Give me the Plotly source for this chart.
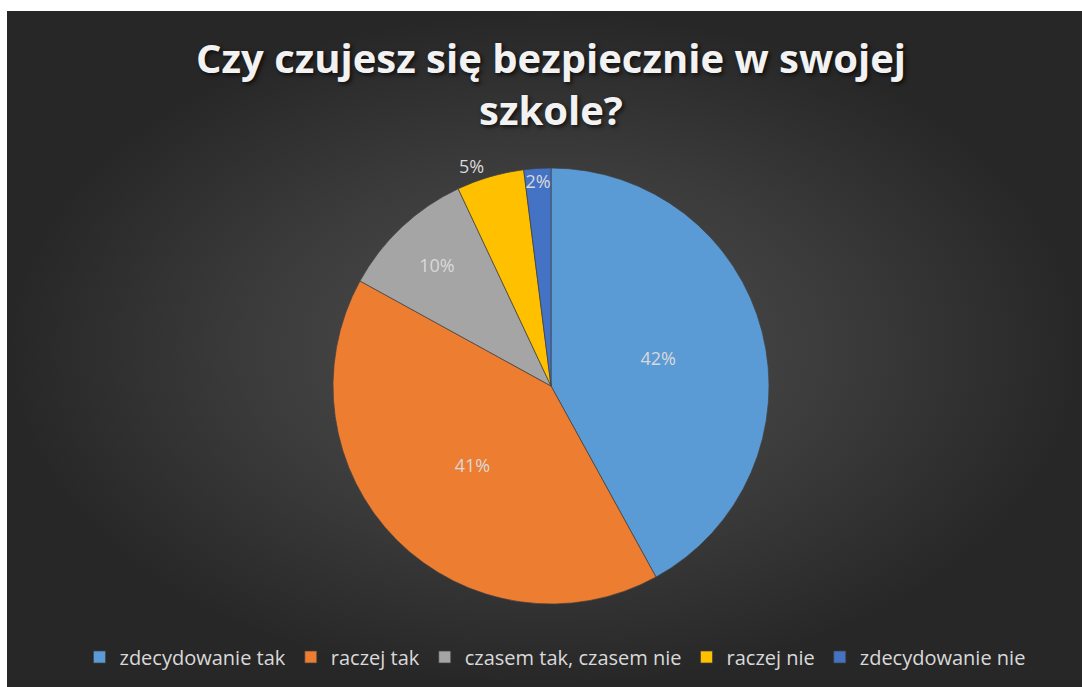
import plotly.graph_objects as go

categories = ["zdecydowanie tak", "raczej tak", "czasem tak, czasem nie", "raczej nie", "zdecydowanie nie"]
values = [42, 41, 10, 5, 2]
colors = ["#5B9BD5", "#ED7D31", "#A5A5A5", "#FFC000", "#4472C4"]
text_positions = ["inside", "inside", "inside", "outside", "inside"]
title_text = "Czy czujesz się bezpiecznie w swojej<br>szkole?"

W, H = 1082, 687

fig = go.Figure()

# background panel with a radial gradient (decoration, drawn on hidden axes)
fig.add_trace(go.Scatter(
    x=[7, W, W, 7, 7], y=[11, 11, H, H, 11],
    mode="lines", line=dict(width=0),
    fill="toself",
    fillcolor="#262626",
    fillgradient=dict(type="radial",
                      colorscale=[[0, "#505050"], [0.55, "#3b3b3b"], [1, "#272727"]]),
    hoverinfo="skip", showlegend=False,
))

fig.add_trace(go.Pie(
    labels=categories,
    values=values,
    sort=False,
    direction="clockwise",
    rotation=0,
    marker=dict(colors=colors, line=dict(color="#404040", width=0.7)),
    textinfo="percent",
    texttemplate="%{percent:.0%}",
    textposition=text_positions,
    insidetextorientation="horizontal",
    textfont=dict(family="Open Sans", size=18, color="#d9d9d9"),
    domain=dict(x=[333 / W, 769 / W], y=[1 - 604 / H, 1 - 168 / H]),
    hoverinfo="label+percent",
))

fig.update_xaxes(range=[0, W], visible=False, fixedrange=True, domain=[0, 1])
fig.update_yaxes(range=[H, 0], visible=False, fixedrange=True, domain=[0, 1])

fig.update_layout(
    width=W, height=H,
    margin=dict(l=0, r=0, t=0, b=0),
    paper_bgcolor="white",
    plot_bgcolor="rgba(0,0,0,0)",
    uniformtext=dict(minsize=18, mode="show"),
    title=dict(
        text=title_text,
        x=551 / W, xanchor="center",
        y=1 - 73 / H, yanchor="top",
        font=dict(family="Open Sans", size=40, color="#f2f2f2", weight="bold",
                  shadow="2px 2px 4px rgba(0,0,0,0.7)"),
    ),
    showlegend=True,
    legend=dict(
        orientation="h",
        x=555 / W, xanchor="center",
        y=1 - 657 / H, yanchor="middle",
        font=dict(family="Open Sans", size=20, color="#d9d9d9"),
        bgcolor="rgba(0,0,0,0)",
        traceorder="normal",
    ),
)

fig.write_html("out.html")
